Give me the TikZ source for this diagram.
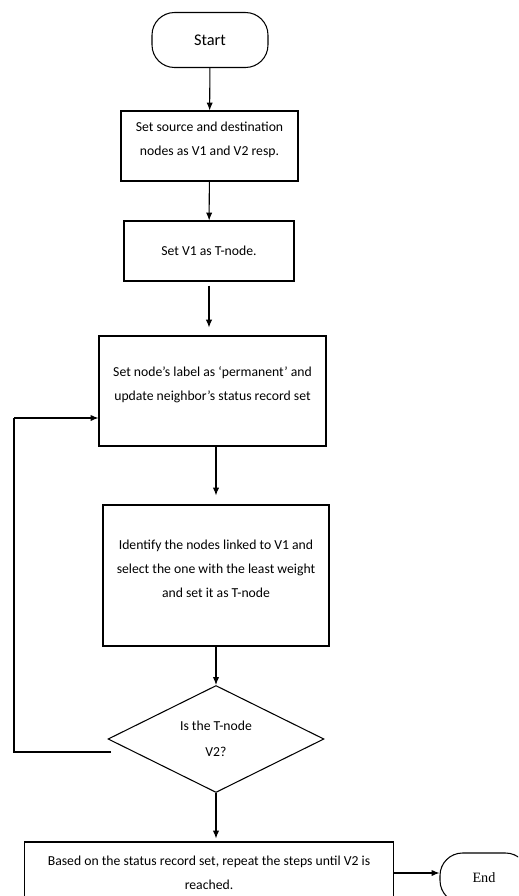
\documentclass[tikz,border=0pt]{standalone}
\usepackage{fontspec}
\setmainfont{Carlito}
\newfontfamily\endfont{Liberation Serif}
\usetikzlibrary{shapes.geometric, arrows.meta}

\begin{document}
\begin{tikzpicture}[x=0.02cm, y=-0.02cm, every node/.style={font=\fontsize{7.8}{13.6}\selectfont},
    proc/.style={draw, rectangle, line width=0.6pt, align=center, inner sep=2pt},
    procup/.style={proc, text depth=8pt},
    term/.style={draw, rectangle, rounded corners=0.45cm, line width=0.6pt},
    flow/.style={line width=0.6pt, -{Latex[length=4.5pt,width=3.6pt]}}]
    \clip (0,0) rectangle (518,896);
    \node[term, minimum width=2.32cm, minimum height=1.1cm, font=\fontsize{9.3}{11}\selectfont] (start) at (210,40) {Start};
    \node[procup, minimum width=3.54cm, minimum height=1.4cm] (setsrc) at (209.5,146) {Set source and destination\\nodes as V1 and V2 resp.};
    \node[proc, minimum width=3.4cm, minimum height=1.2cm] (settnode) at (209,251) {Set V1 as T-node.};
    \node[procup, minimum width=4.54cm, minimum height=2.2cm] (perm) at (212.5,391) {Set node’s label as ‘permanent’ and\\update neighbor’s status record set};
    \node[procup, minimum width=4.52cm, minimum height=2.82cm] (ident) at (216,575.5) {Identify the nodes linked to V1 and\\select the one with the least weight\\and set it as T-node};
    \node[draw, diamond, aspect=2, line width=0.6pt, inner sep=0pt, align=center, minimum width=4.32cm, minimum height=2.14cm, font=\fontsize{7.8}{14.7}\selectfont] (check) at (216,739) {Is the T-node\\V2?};
    \node[proc, minimum width=7.4cm, minimum height=1.24cm] (repeat) at (209,873) {Based on the status record set, repeat the steps until V2 is\\reached.};
    \node[term, minimum width=1.76cm, minimum height=1cm, font=\endfont\fontsize{8.1}{10}\selectfont] (end) at (484,878) {End};
    % loop back corners
    \coordinate (loopstart) at (111,752);
    \coordinate (loopbot) at (14,752);
    \coordinate (looptop) at (14,418);
    \draw[flow] (start) -- (setsrc);
    \draw[flow] (setsrc) -- (settnode);
    \draw[flow, shorten <=2.3pt, shorten >=4.5pt] (settnode.south) -- (settnode.south |- perm.north);
    \draw[flow, shorten >=5.1pt] (perm.south -| ident.north) -- (ident.north);
    \draw[flow] (ident.south -| check.north) -- (check.north);
    \draw[flow, shorten >=1.7pt] (check.south) -- (check.south |- repeat.north);
    \draw[line width=0.6pt] (loopstart) -- (loopbot) -- (looptop);
    \draw[flow] (looptop) -- (looptop -| perm.west);
    \draw[flow] (repeat.east |- 0,873) -- (end.west |- 0,873);
\end{tikzpicture}
\end{document}
